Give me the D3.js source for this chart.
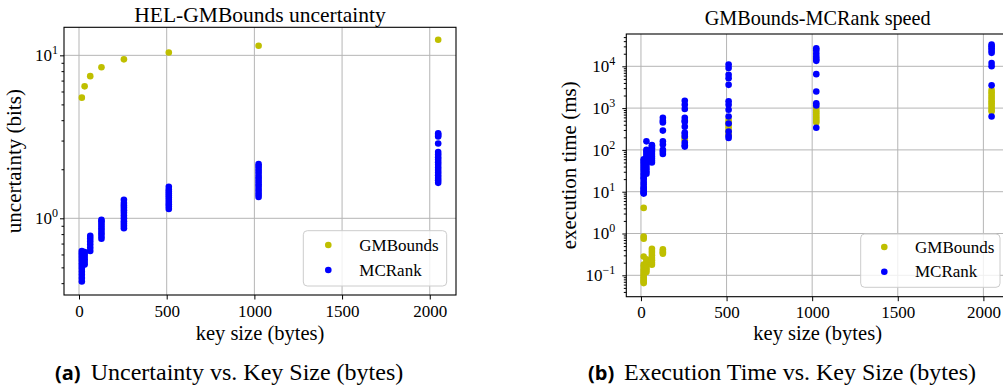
<!DOCTYPE html>
<html><head><meta charset="utf-8">
<script src="https://cdn.jsdelivr.net/npm/d3@7"></script>
<style>
body{margin:0;background:#fff}
svg{display:block}
text{font-family:"Liberation Serif","Times New Roman",serif;fill:#000}
</style>
</head><body>
<svg id="c" width="1003" height="392"></svg>
<script>
// ---------- data ----------
const keySizes = [16, 32, 64, 128, 256, 512, 1024, 2048];
const seriesNames = ["GMBounds", "MCRank"];
const seriesColors = ["#bfbf00", "#0000ff"];
const xTicks = [0, 500, 1000, 1500, 2000];
const uncMajorTicks = [1, 10];
const timeMajorTicks = [0.1, 1, 10, 100, 1000, 10000];

// (a) uncertainty (bits)
const gmUncertainty = [[5.5], [6.45], [7.45], [8.45], [9.45], [10.4], [11.45], [12.45]];
const mcUncertainty = [
  [0.41, 0.43, 0.45, 0.47, 0.49, 0.51, 0.53, 0.55, 0.57, 0.59, 0.61, 0.63],
  [0.52, 0.54, 0.56, 0.58, 0.60, 0.62],
  [0.63, 0.66, 0.69, 0.72, 0.75, 0.78],
  [0.75, 0.78, 0.81, 0.84, 0.87, 0.90, 0.93, 0.96, 0.98],
  [0.87, 0.90, 0.93, 0.96, 1.00, 1.04, 1.08, 1.12, 1.16, 1.20, 1.24, 1.30],
  [1.14, 1.18, 1.22, 1.26, 1.30, 1.34, 1.38, 1.42, 1.46, 1.50, 1.56],
  [1.35, 1.40, 1.45, 1.50, 1.56, 1.62, 1.68, 1.74, 1.80, 1.87, 1.94, 2.01, 2.08, 2.15],
  [1.65, 1.71, 1.77, 1.84, 1.91, 1.98, 2.05, 2.13, 2.21, 2.29, 2.37, 2.46, 2.55, 2.88, 3.18, 3.25, 3.32]
];

// (b) execution time (ms)
const gmTime = [
  [4.1, 0.85, 0.75, 0.28, 0.18, 0.16, 0.14, 0.125, 0.11, 0.1, 0.09, 0.082, 0.075, 0.07, 0.065],
  [0.24, 0.21, 0.19, 0.17, 0.15, 0.135, 0.12],
  [0.43, 0.38, 0.34, 0.3, 0.26, 0.23, 0.2, 0.18],
  [0.42, 0.38, 0.35, 0.33],
  [205, 185, 170],
  [520, 460, 400, 350, 300, 260, 230],
  [1000, 880, 780, 700, 620, 560, 500, 450],
  [2700, 2400, 2100, 1850, 1650, 1450, 1300, 1150, 1020, 900, 830]
];
const mcTime = [
  [60, 55, 50, 45, 40, 36, 32, 28, 25, 22, 20, 17, 15, 13, 12, 11, 10, 9.5, 9],
  [160, 100, 90, 80, 70, 62, 55, 48, 42, 36, 31, 27],
  [130, 120, 110, 100, 90, 80, 70, 62, 55, 50],
  [590, 500, 455, 290, 160, 135, 100, 90, 80],
  [1500, 1200, 950, 590, 500, 470, 360, 260, 240, 210, 150, 130, 120],
  [11000, 9100, 6300, 5200, 3600, 1450, 1200, 910, 630, 430, 275, 218, 192],
  [27000, 24000, 20000, 17000, 15000, 13500, 6500, 2500, 1300, 1150, 340],
  [33000, 30000, 27000, 24000, 21000, 12000, 10000, 3500, 630]
];

// ---------- drawing ----------
const SERIF = '"Liberation Serif","Times New Roman",serif';
const svg = d3.select("#c");
svg.append("rect").attr("width", 1003).attr("height", 392).attr("fill", "#fff");

function flatten(groups) {
  const out = [];
  groups.forEach((vals, i) => vals.forEach(v => out.push({x: keySizes[i], y: v})));
  return out;
}

function supLabel(sel, expOf) {
  sel.each(function(d) {
    const t = d3.select(this);
    t.text(null);
    t.append("tspan").text("10");
    t.append("tspan").attr("dy", "-7").style("font-size", "12px")
      .text(String(expOf(d)).replace("-", "\u2212"));
  });
}

function panel(cfg) {
  const g = svg.append("g");
  const x = d3.scaleLinear().domain([-85.6, 2149.6]).range([cfg.l, cfg.r]);
  const y = d3.scaleLog().domain(cfg.yDom).range([cfg.b, cfg.t]);

  // grid
  const grid = g.append("g").attr("stroke", "#b5b5b5").attr("stroke-width", 1);
  grid.selectAll(".gx").data(xTicks).join("line")
    .attr("x1", d => x(d)).attr("x2", d => x(d)).attr("y1", cfg.t).attr("y2", cfg.b);
  grid.selectAll(".gy").data(cfg.major).join("line")
    .attr("x1", cfg.l).attr("x2", cfg.r).attr("y1", d => y(d)).attr("y2", d => y(d));

  // points
  const sets = [flatten(cfg.gm), flatten(cfg.mc)];
  sets.forEach((pts, si) => {
    g.append("g").selectAll("circle").data(pts).join("circle")
      .attr("cx", d => x(d.x)).attr("cy", d => y(d.y)).attr("r", 3.3)
      .attr("fill", seriesColors[si]);
  });

  // legend
  const lg = g.append("g");
  lg.append("rect").attr("x", cfg.leg.x).attr("y", cfg.leg.y)
    .attr("width", cfg.leg.w).attr("height", cfg.leg.h).attr("rx", 4)
    .attr("fill", "#fff").attr("fill-opacity", 0.8)
    .attr("stroke", "#cccccc").attr("stroke-width", 1);
  seriesNames.forEach((name, i) => {
    const cy = cfg.leg.my[i];
    lg.append("circle").attr("cx", cfg.leg.mx).attr("cy", cy).attr("r", 3.3).attr("fill", seriesColors[i]);
    lg.append("text").attr("x", cfg.leg.tx).attr("y", cy).attr("dy", "0.33em")
      .style("font-size", "17px").style("font-family", SERIF).text(name);
  });

  // frame
  g.append("rect").attr("x", cfg.l).attr("y", cfg.t)
    .attr("width", cfg.r - cfg.l).attr("height", cfg.b - cfg.t)
    .attr("fill", "none").attr("stroke", "#000").attr("stroke-width", 1.1);

  // x axis
  const xa = g.append("g").attr("transform", `translate(0,${cfg.b})`)
    .call(d3.axisBottom(x).tickValues(xTicks).tickSize(4.5).tickPadding(5).tickFormat(d3.format("d")));
  xa.select(".domain").remove();
  xa.selectAll("text").style("font-size", "17px").style("font-family", SERIF).attr("fill", "#000");

  // y axis minor
  const ymin = g.append("g").attr("transform", `translate(${cfg.l},0)`)
    .call(d3.axisLeft(y).tickValues(cfg.minor).tickSize(2.5).tickFormat(""));
  ymin.select(".domain").remove();
  // y axis major
  const ya = g.append("g").attr("transform", `translate(${cfg.l},0)`)
    .call(d3.axisLeft(y).tickValues(cfg.major).tickSize(4).tickPadding(cfg.yPad));
  ya.select(".domain").remove();
  ya.selectAll("text").style("font-size", "17px").style("font-family", SERIF)
    .attr("fill", "#000").attr("dy", "0.32em");
  supLabel(ya.selectAll("text"), d => Math.round(Math.log10(d)));

  // titles / labels
  g.append("text").attr("x", (cfg.l + cfg.r) / 2).attr("y", cfg.titleY)
    .attr("text-anchor", "middle").style("font-size", cfg.titleSize).text(cfg.title);
  g.append("text").attr("x", (cfg.l + cfg.r) / 2).attr("y", cfg.xLabY)
    .attr("text-anchor", "middle").style("font-size", "20.5px").text("key size (bytes)");
  g.append("text").attr("transform", `translate(${cfg.yLabX},${(cfg.t + cfg.b) / 2}) rotate(-90)`)
    .attr("text-anchor", "middle").style("font-size", "21px").text(cfg.yLab);

  // caption
  const cap = g.append("text").attr("x", cfg.cap.x).attr("y", 380);
  cap.append("tspan").style("font-family", "'Open Sans', 'DejaVu Sans', sans-serif")
    .style("font-weight", 700).style("font-size", "20px").text(cfg.cap.tag);
  cap.append("tspan").attr("x", cfg.cap.tx).style("font-size", "24px").text(cfg.cap.text);
}

function minorTicks(lo, hi) {
  const out = [];
  for (let e = lo; e <= hi; e++) for (let m = 2; m <= 9; m++) out.push(m * Math.pow(10, e));
  return out;
}

panel({
  l: 64, r: 456, t: 27.3, b: 295,
  yDom: [0.3384, 14.86],
  major: uncMajorTicks,
  minor: minorTicks(-1, 1).filter(v => v > 0.3384 && v < 14.86),
  yPad: 2,
  gm: gmUncertainty, mc: mcUncertainty,
  title: "HEL-GMBounds uncertainty", titleY: 21.5, titleSize: "21.5px",
  xLabY: 339.5, yLabX: 20.5, yLab: "uncertainty (bits)",
  leg: {x: 303.3, y: 230.7, w: 143.4, h: 55.3, mx: 328.3, tx: 359.3, my: [245, 270]},
  cap: {x: 55, tag: "(a)", tx: 90.7, text: "Uncertainty vs. Key Size (bytes)"}
});

panel({
  l: 626.3, r: 1009, t: 34, b: 296.7,
  yDom: [Math.pow(10, -1.512), Math.pow(10, 4.773)],
  major: timeMajorTicks,
  minor: minorTicks(-2, 4).filter(v => v > Math.pow(10, -1.512) && v < Math.pow(10, 4.773)),
  yPad: 7,
  gm: gmTime, mc: mcTime,
  title: "GMBounds-MCRank speed", titleY: 24.5, titleSize: "20.2px",
  xLabY: 340, yLabX: 575.5, yLab: "execution time (ms)",
  leg: {x: 860.7, y: 234, w: 139.3, h: 53.3, mx: 884.3, tx: 915, my: [247, 271.7]},
  cap: {x: 588, tag: "(b)", tx: 624, text: "Execution Time vs. Key Size (bytes)"}
});
</script>
</body></html>
